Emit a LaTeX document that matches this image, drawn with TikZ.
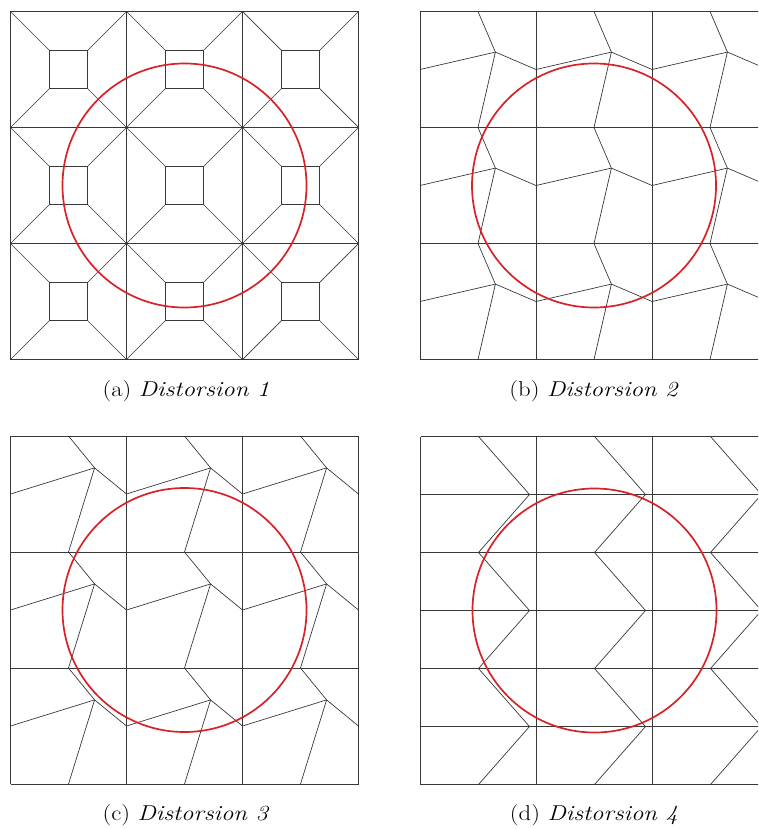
\documentclass[tikz,border=0pt]{standalone}
\usepackage{graphicx}
\definecolor{circred}{RGB}{216,34,40}
\begin{document}
\begin{tikzpicture}[x=1pt,y=-1pt,
  mesh/.style={line width=0.7pt,draw=black!78,line join=miter},
  ring/.style={line width=1.7pt,draw=circred},
  captext/.style={font=\fontsize{21.5}{26}\selectfont,anchor=base}]
\useasboundingbox (0,0) rectangle (758,829);
\clip (0,0) rectangle (758,829);

% ---------- (a) ----------
\begin{scope}[shift={(10.5,11.5)}]
  \foreach \k in {0,1,2,3} {
    \draw[mesh] (116*\k,0) -- (116*\k,348);
    \draw[mesh] (0,116*\k) -- (348,116*\k);
  }
  \foreach \i in {0,1,2} {
    \foreach \j in {0,1,2} {
      \draw[mesh] (116*\i+38.67,116*\j+38.67) rectangle (116*\i+77.33,116*\j+77.33);
      \draw[mesh] (116*\i,116*\j) -- (116*\i+38.67,116*\j+38.67);
      \draw[mesh] (116*\i+116,116*\j) -- (116*\i+77.33,116*\j+38.67);
      \draw[mesh] (116*\i,116*\j+116) -- (116*\i+38.67,116*\j+77.33);
      \draw[mesh] (116*\i+116,116*\j+116) -- (116*\i+77.33,116*\j+77.33);
    }
  }
  \draw[ring] (174,174) circle[radius=122];
\end{scope}

% ---------- (b) ----------
\begin{scope}[shift={(420,11.5)}]
  \def\dd{17.4}
  \foreach \k in {0,1,2,3} {
    \draw[mesh] (116*\k,0) -- (116*\k,348);
    \draw[mesh] (0,116*\k) -- (348,116*\k);
  }
  \foreach \i in {0,1,2} {
    \foreach \j in {0,1,2} {
      \coordinate (pb) at (116*\i+58+\dd,116*\j+58-\dd);
      \draw[mesh] (116*\i,116*\j+58) -- (pb) -- (116*\i+116,116*\j+58);
      \draw[mesh] (116*\i+58,116*\j) -- (pb) -- (116*\i+58,116*\j+116);
    }
  }
  \draw[ring] (174,174) circle[radius=122];
\end{scope}

% ---------- (c) ----------
\begin{scope}[shift={(10.5,436)}]
  \def\dd{26.1}
  \foreach \k in {0,1,2,3} {
    \draw[mesh] (116*\k,0) -- (116*\k,348);
    \draw[mesh] (0,116*\k) -- (348,116*\k);
  }
  \foreach \i in {0,1,2} {
    \foreach \j in {0,1,2} {
      \coordinate (pc) at (116*\i+58+\dd,116*\j+58-\dd);
      \draw[mesh] (116*\i,116*\j+58) -- (pc) -- (116*\i+116,116*\j+58);
      \draw[mesh] (116*\i+58,116*\j) -- (pc) -- (116*\i+58,116*\j+116);
    }
  }
  \draw[ring] (174,174) circle[radius=122];
\end{scope}

% ---------- (d) ----------
\begin{scope}[shift={(420.5,436.5)}]
  \foreach \k in {0,1,2,3} {
    \draw[mesh] (116*\k,0) -- (116*\k,348);
  }
  \foreach \k in {0,...,6} {
    \draw[mesh] (0,58*\k) -- (348,58*\k);
  }
  \foreach \i in {0,1,2} {
    \draw[mesh] (116*\i+58,0) -- (116*\i+109,58) -- (116*\i+58,116)
      -- (116*\i+109,174) -- (116*\i+58,232) -- (116*\i+109,290) -- (116*\i+58,348);
  }
  \draw[ring] (174,174) circle[radius=122];
\end{scope}

% ---------- captions ----------
\node[captext] (capa) at (186,396) {\scalebox{1.15}[1]{(a)\ \textit{Distorsion 1}}};
\node[captext] (capb) at (594,396) {\scalebox{1.15}[1]{(b)\ \textit{Distorsion 2}}};
\node[captext] (capc) at (186,820.5) {\scalebox{1.15}[1]{(c)\ \textit{Distorsion 3}}};
\node[captext] (capd) at (594,820.5) {\scalebox{1.15}[1]{(d)\ \textit{Distorsion 4}}};
\end{tikzpicture}
\end{document}
